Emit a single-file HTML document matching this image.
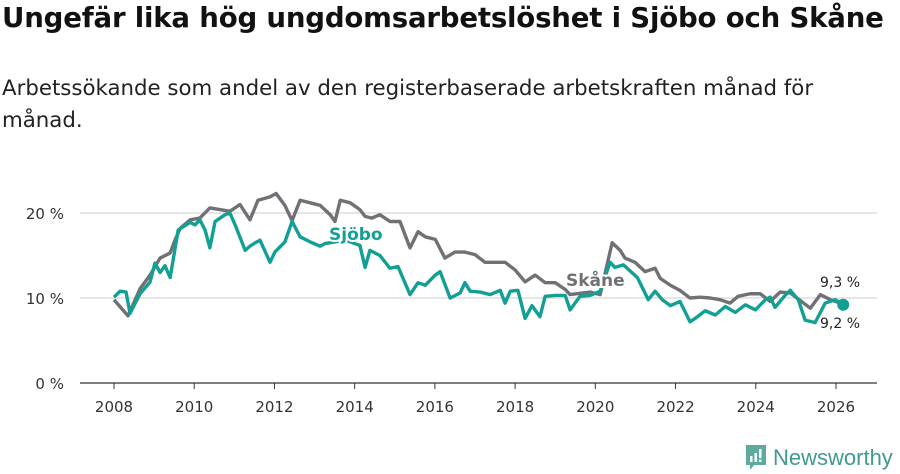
<!DOCTYPE html>
<html><head><meta charset="utf-8"><style>
body{margin:0;width:900px;height:474px;background:#fff;font-family:"DejaVu Sans","Liberation Sans",sans-serif;overflow:hidden;position:relative}
h1{position:absolute;left:2px;top:1px;margin:0;font-size:27.6px;font-weight:bold;color:#111;letter-spacing:-0.2px;white-space:nowrap}
.sub{position:absolute;left:2px;top:73px;font-size:21.3px;color:#222;line-height:32px;width:860px}
svg{position:absolute;left:0;top:0}
</style></head><body>
<h1>Ungefär lika hög ungdomsarbetslöshet i Sjöbo och Skåne</h1>
<div class="sub">Arbetssökande som andel av den registerbaserade arbetskraften månad för månad.</div>
<svg id="c" width="900" height="474"></svg>
<script>
const yTicks=[0,10,20];
const xTicks=[2008,2010,2012,2014,2016,2018,2020,2022,2024,2026];
const skaneDates=[2008.00,2008.35,2008.65,2008.90,2009.15,2009.40,2009.52,2009.65,2009.90,2010.14,2010.39,2010.64,2010.89,2011.14,2011.39,2011.59,2011.89,2012.04,2012.26,2012.44,2012.64,2012.89,2013.14,2013.39,2013.51,2013.64,2013.89,2014.13,2014.26,2014.43,2014.63,2014.88,2015.13,2015.38,2015.58,2015.76,2016.01,2016.25,2016.50,2016.75,2017.00,2017.25,2017.50,2017.75,2018.00,2018.25,2018.50,2018.75,2019.00,2019.25,2019.37,2019.87,2020.12,2020.42,2020.62,2020.74,2020.99,2021.24,2021.49,2021.62,2021.87,2022.11,2022.36,2022.61,2022.86,2023.11,2023.36,2023.56,2023.86,2024.11,2024.36,2024.61,2024.86,2025.36,2025.61,2025.86,2026.18];
const skaneValues=[9.8,7.9,11.1,12.7,14.7,15.3,16.8,18.2,19.2,19.4,20.6,20.4,20.2,21.0,19.2,21.5,21.9,22.3,20.9,19.1,21.5,21.2,20.9,19.8,19.0,21.5,21.2,20.4,19.6,19.4,19.8,19.0,19.0,15.9,17.8,17.2,16.9,14.7,15.4,15.4,15.1,14.2,14.2,14.2,13.3,11.9,12.7,11.8,11.8,11.0,10.4,10.7,10.4,16.5,15.6,14.7,14.2,13.1,13.5,12.3,11.5,10.9,10.0,10.1,10.0,9.8,9.4,10.2,10.5,10.5,9.6,10.7,10.6,8.8,10.4,9.8,9.3];
const sjoboDates=[2008.00,2008.15,2008.30,2008.40,2008.65,2008.90,2009.02,2009.15,2009.27,2009.40,2009.60,2009.90,2010.02,2010.14,2010.27,2010.39,2010.52,2010.77,2010.89,2011.02,2011.27,2011.39,2011.52,2011.64,2011.89,2012.01,2012.26,2012.44,2012.64,2012.89,2013.14,2013.26,2013.76,2014.13,2014.26,2014.38,2014.63,2014.88,2015.08,2015.38,2015.58,2015.76,2016.01,2016.13,2016.38,2016.63,2016.75,2016.88,2017.13,2017.38,2017.63,2017.75,2017.88,2018.07,2018.25,2018.42,2018.62,2018.75,2019.00,2019.25,2019.37,2019.62,2019.87,2020.12,2020.37,2020.49,2020.70,2021.05,2021.32,2021.49,2021.67,2021.87,2022.11,2022.36,2022.49,2022.74,2022.99,2023.24,2023.49,2023.74,2023.99,2024.24,2024.36,2024.48,2024.73,2024.86,2025.06,2025.23,2025.48,2025.73,2025.98,2026.18];
const sjoboValues=[10.1,10.8,10.7,8.2,10.5,11.9,14.1,13.0,13.8,12.4,18.0,18.9,18.6,19.2,18.0,15.9,19.0,19.8,20.0,18.6,15.6,16.1,16.5,16.8,14.2,15.4,16.6,19.0,17.2,16.6,16.1,16.4,16.8,16.2,13.6,15.6,15.0,13.5,13.7,10.4,11.8,11.5,12.7,13.1,10.0,10.6,11.8,10.8,10.7,10.4,10.9,9.4,10.8,10.9,7.6,9.1,7.8,10.2,10.3,10.3,8.6,10.2,10.3,10.8,14.2,13.6,13.9,12.4,9.8,10.8,9.8,9.1,9.6,7.2,7.6,8.5,8.0,9.0,8.3,9.2,8.6,9.8,10.1,8.9,10.3,10.9,9.8,7.4,7.1,9.4,9.8,9.2];
const svg=document.getElementById('c');const NS='http://www.w3.org/2000/svg';
const X=v=>114+(v-2008)*40.11;const Y=v=>383-v*8.5;
function mk(t,a,p){const e=document.createElementNS(NS,t);for(const k in a)e.setAttribute(k,a[k]);(p||svg).appendChild(e);return e;}
yTicks.forEach(t=>{
 const g=mk('line',{x1:80,x2:877,y1:Y(t),y2:Y(t),stroke:t===0?'#333':'#ddd','stroke-width':t===0?1.2:1.5});
 
 
 const l=mk('text',{x:64,y:Y(t)+6,'text-anchor':'end','font-size':15,fill:'#333'});l.textContent=t+' %';
 
 
});
xTicks.forEach(t=>{
 const k=mk('line',{x1:X(t),x2:X(t),y1:383,y2:389,stroke:'#333'});
 
 
 const l=mk('text',{x:X(t),y:412,'text-anchor':'middle','font-size':15,fill:'#333'});l.textContent=t;
 
 
});
function line(d,v,c,n){const p=mk('polyline',{points:d.map((x,i)=>X(x)+','+Y(v[i])).join(' '),fill:'none',stroke:c,'stroke-width':3.4,'stroke-linejoin':'round'});
 
 }
line(skaneDates,skaneValues,'#717075','skane-line');
line(sjoboDates,sjoboValues,'#12a095','sjobo-line');
const d=mk('circle',{cx:X(sjoboDates[sjoboDates.length-1]),cy:Y(sjoboValues[sjoboValues.length-1]),r:6,fill:'#12a095'});


function lab(x,y,t,c,n,w,s){const e=mk('text',{x:x,y:y,'font-size':s,'font-weight':w,fill:c,stroke:'#fff','stroke-width':4,'paint-order':'stroke'});e.textContent=t;
 
 }
lab(329,240,'Sjöbo','#12a095','sjobo-label','bold',17);
lab(566,286,'Skåne','#717075','skane-label','bold',17);
lab(820,287,'9,3 %','#222','skane-end-value','normal',14);
lab(820,328,'9,2 %','#222','sjobo-end-value','normal',14);
</script>
<div style="position:absolute;left:745px;top:444px;display:flex;align-items:center;color:#3f9a8f;font-family:'Liberation Sans',sans-serif;font-size:22px">
<svg width="22" height="28" style="position:static;margin-right:6px" viewBox="0 0 22 28"><path d="M1 1h20v20H9l-4 5v-5H1z" fill="#5bab9f"/><rect x="5" y="12" width="2.5" height="6" fill="#fff"/><rect x="9.5" y="9" width="2.5" height="9" fill="#fff"/><rect x="14" y="5" width="2.5" height="9" fill="#fff"/><rect x="14" y="15.5" width="2.5" height="2.5" fill="#fff"/></svg>Newsworthy</div>
</body></html>
